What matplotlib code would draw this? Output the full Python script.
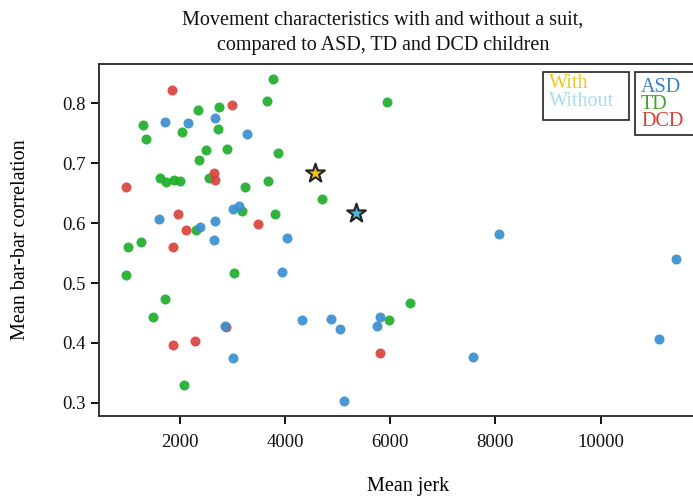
import matplotlib
matplotlib.use("Agg")
import matplotlib.pyplot as plt

plt.rcParams['font.family'] = ['Liberation Serif', 'DejaVu Serif']

# mean jerk / mean bar-bar correlation per group
asd_jerk = [1721, 2158, 2660, 3274, 3013, 3127, 1595, 2675, 2380, 2641, 4044, 3945,
            2850, 3013, 4329, 4876, 5042, 5112, 5808, 5745, 7570, 8065, 11106, 11430]
asd_corr = [0.769, 0.767, 0.775, 0.749, 0.623, 0.629, 0.607, 0.603, 0.593, 0.571, 0.575, 0.519,
            0.429, 0.375, 0.438, 0.440, 0.424, 0.303, 0.443, 0.429, 0.376, 0.582, 0.407, 0.540]

td_jerk = [3762, 3648, 5941, 2741, 2348, 1297, 2044, 2728, 1348, 2500, 2888, 3869, 2356,
           1620, 1728, 1886, 1996, 2551, 3673, 3245, 4705, 3184, 3806, 2300, 1253, 1015,
           973, 3021, 1715, 1481, 2070, 5979, 6373]
td_corr = [0.841, 0.804, 0.802, 0.794, 0.788, 0.764, 0.752, 0.757, 0.740, 0.722, 0.724, 0.717, 0.705,
           0.675, 0.669, 0.672, 0.671, 0.675, 0.671, 0.660, 0.640, 0.621, 0.615, 0.589, 0.568, 0.560,
           0.513, 0.516, 0.474, 0.443, 0.329, 0.439, 0.467]

dcd_jerk = [1842, 2983, 2643, 2671, 973, 1966, 2108, 3487, 1867, 2880, 2285, 1867, 5797]
dcd_corr = [0.822, 0.797, 0.684, 0.672, 0.660, 0.616, 0.588, 0.599, 0.560, 0.427, 0.404, 0.396, 0.383]

# suit condition
with_jerk, with_corr = [4576], [0.683]
without_jerk, without_corr = [5340], [0.617]

c_asd = "#3a8fd0"
c_td = "#1fae2a"
c_dcd = "#d9443f"

fig = plt.figure(figsize=(6.93, 4.96), dpi=100)
ax = fig.add_axes([99 / 693, 1 - 416 / 496, 1 - 99 / 693, (416 - 64) / 496])

ax.scatter(td_jerk, td_corr, s=52, color=c_td, alpha=0.92, linewidths=0)
ax.scatter(dcd_jerk, dcd_corr, s=52, color=c_dcd, alpha=0.92, linewidths=0)
ax.scatter(asd_jerk, asd_corr, s=52, color=c_asd, alpha=0.92, linewidths=0)
ax.scatter(with_jerk, with_corr, s=200, marker="*", color="#f2c21b", edgecolors="#222222", linewidths=1.5, zorder=5)
ax.scatter(without_jerk, without_corr, s=200, marker="*", color="#4cb6d6", edgecolors="#222222", linewidths=1.5, zorder=5)

ax.set_xlim(462, 11755)
ax.set_ylim(0.278, 0.8656)
ax.set_xticks([2000, 4000, 6000, 8000, 10000])
ax.set_yticks([0.3, 0.4, 0.5, 0.6, 0.7, 0.8])
ax.tick_params(labelsize=13.5, length=6, width=1.4, colors="#111111")
ax.tick_params(axis="x", pad=7)
ax.spines["right"].set_visible(False)
for s in ["left", "bottom", "top"]:
    ax.spines[s].set_linewidth(1.4)
    ax.spines[s].set_color("#333333")

fig.text(383 / 693, 1 - 33 / 496, "Movement characteristics with and without a suit,\ncompared to ASD, TD and DCD children",
         ha="center", va="center", fontsize=14.5, linespacing=1.45, color="#111111")
fig.text(408 / 693, 1 - 486 / 496, "Mean jerk", ha="center", va="center", fontsize=14.5)
fig.text(21 / 693, 1 - 240 / 496, "Mean bar-bar correlation", ha="center", va="center",
         rotation=90, fontsize=14.5)

# text-only legend boxes
def text_box(x0, y0, w, h, labels, colors, top_pad):
    rect = plt.Rectangle((x0 / 693, 1 - (y0 + h) / 496), w / 693, h / 496, transform=fig.transFigure,
                         fill=True, facecolor="white", edgecolor="#222222", linewidth=1.2)
    fig.add_artist(rect)
    for i, (lab, col) in enumerate(zip(labels, colors)):
        fig.text((x0 + 6) / 693, 1 - (y0 + top_pad + i * 17.5) / 496, lab, color=col,
                 fontsize=14.5, ha="left", va="center")

text_box(543, 72, 86, 48, ["With", "Without"], ["#f5c518", "#a5dfee"], 12)
text_box(635, 72, 70, 63, ["ASD", "TD", "DCD"], ["#3a80c6", "#3aa81e", "#d83c38"], 15)

fig.savefig("out.png", dpi=100)
